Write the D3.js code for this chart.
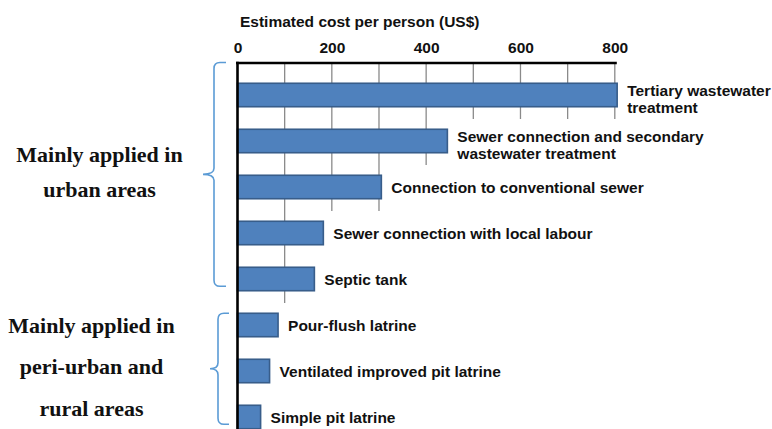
<!DOCTYPE html>
<html>
<head>
<meta charset="utf-8">
<script src="https://cdn.jsdelivr.net/npm/d3@7"></script>
<style>
  html, body { margin: 0; padding: 0; background: #ffffff; }
  svg { display: block; }
</style>
</head>
<body>
<svg id="chart" width="772" height="429"></svg>
<script>
// ---------- data ----------
const categories = [
  "Tertiary wastewater treatment",
  "Sewer connection and secondary wastewater treatment",
  "Connection to conventional sewer",
  "Sewer connection with local labour",
  "Septic tank",
  "Pour-flush latrine",
  "Ventilated improved pit latrine",
  "Simple pit latrine"
];
const labelLines = [
  ["Tertiary wastewater", "treatment"],
  ["Sewer connection and secondary", "wastewater treatment"],
  ["Connection to conventional sewer"],
  ["Sewer connection with local labour"],
  ["Septic tank"],
  ["Pour-flush latrine"],
  ["Ventilated improved pit latrine"],
  ["Simple pit latrine"]
];
const costs = [805, 445, 305, 182, 163, 86, 68, 49];
const tickLabels = [0, 200, 400, 600, 800];
const gridValues = [100, 200, 300, 400, 500, 600, 700, 800];
const axisTitle = "Estimated cost per person (US$)";
const groupLines = [
  ["Mainly applied in", "urban areas"],
  ["Mainly applied in", "peri-urban and", "rural areas"]
];
const groupFirst = [0, 5];
const groupLast = [4, 7];

// ---------- layout ----------
const W = 772, H = 429;
const axisY = 63;
const sansFont = "'Liberation Sans', Arial, sans-serif";
const serifFont = "'Liberation Serif', 'Times New Roman', serif";
const braceLayout = [
  { vx: 214, hx: 226, tx: 203, textX: 99.5, lineH: 35 },
  { vx: 218, hx: 229, tx: 210, textX: 91.5, lineH: 41.7 }
];

const svg = d3.select("#chart");

const x = d3.scaleLinear().domain([0, 800]).range([237.5, 614.8]);
const y = d3.scaleBand().domain(categories).range([72, 440])
  .paddingInner(0.49).paddingOuter(0.245);
const bw = y.bandwidth();
const cy = i => y(categories[i]) + bw / 2;

// ---------- gridlines (stop at first label box they meet) ----------
const gridEnd = v => {
  for (let i = 0; i < costs.length; i++) {
    if (x(costs[i]) + 2 <= x(v)) return cy(i) - 22;
  }
  return H;
};
svg.append("g").selectAll("line").data(gridValues).join("line")
  .attr("x1", d => x(d)).attr("x2", d => x(d))
  .attr("y1", axisY).attr("y2", d => gridEnd(d))
  .attr("stroke", "#8a8a8a").attr("stroke-width", 1.3);

// ---------- bars ----------
svg.append("g").selectAll("rect").data(costs).join("rect")
  .attr("x", x(0))
  .attr("y", (d, i) => y(categories[i]))
  .attr("width", d => x(d) - x(0))
  .attr("height", bw)
  .attr("fill", "#4f81bd")
  .attr("stroke", "#385d8a")
  .attr("stroke-width", 1.6);

// ---------- top axis ----------
const axis = svg.append("g").attr("transform", `translate(0,${axisY})`)
  .call(d3.axisTop(x).tickValues(tickLabels).tickSize(0).tickSizeOuter(0).tickPadding(10));
axis.select(".domain").attr("stroke", "#000").attr("stroke-width", 2.5)
  .attr("d", `M${x(0) - 1.5},0H${x(800) + 2}`);
axis.selectAll("text")
  .attr("font-family", sansFont).attr("font-size", "15.5px")
  .attr("font-weight", "bold").attr("fill", "#111");

// left axis line
svg.append("line")
  .attr("x1", x(0)).attr("x2", x(0))
  .attr("y1", axisY - 1.2).attr("y2", H)
  .attr("stroke", "#000").attr("stroke-width", 2.6);

// axis title
svg.append("text")
  .attr("x", x(0) + 2.5).attr("y", 27)
  .attr("font-family", sansFont).attr("font-size", "15.5px")
  .attr("font-weight", "bold").attr("fill", "#111")
  .text(axisTitle);

// ---------- bar labels ----------
const lbl = svg.append("g").selectAll("text").data(labelLines).join("text")
  .attr("font-family", sansFont).attr("font-size", "15.5px")
  .attr("font-weight", "bold").attr("fill", "#111")
  .attr("x", (d, i) => x(costs[i]) + 10)
  .attr("y", (d, i) => cy(i) + 6 - (d.length - 1) * 5.5);
lbl.selectAll("tspan").data(d => d).join("tspan")
  .attr("x", function () { return this.parentNode.getAttribute("x"); })
  .attr("dy", (d, j) => j === 0 ? 0 : 17.5)
  .text(d => d);

// ---------- braces and group labels ----------
groupLines.forEach((lines, g) => {
  const L = braceLayout[g];
  const top = groupFirst[g] === 0 ? axisY - 0.5 : y(categories[groupFirst[g]]);
  const bot = y(categories[groupLast[g]]) + bw - 4.5;
  const mid = (top + bot) / 2;
  const r = 6;
  const p = d3.path();
  p.moveTo(L.hx, top);
  p.lineTo(L.vx + r, top);
  p.quadraticCurveTo(L.vx, top, L.vx, top + r);
  p.lineTo(L.vx, mid - r);
  p.quadraticCurveTo(L.vx, mid, L.tx, mid);
  p.quadraticCurveTo(L.vx, mid, L.vx, mid + r);
  p.lineTo(L.vx, bot - r);
  p.quadraticCurveTo(L.vx, bot, L.vx + r, bot);
  p.lineTo(L.hx, bot);
  svg.append("path").attr("d", p.toString())
    .attr("fill", "none").attr("stroke", "#5b9bd5").attr("stroke-width", 1.6);

  svg.append("g").selectAll("text").data(lines).join("text")
    .attr("x", L.textX)
    .attr("y", (d, i) => mid + (i - (lines.length - 1) / 2) * L.lineH + 5.5)
    .attr("text-anchor", "middle")
    .attr("font-family", serifFont).attr("font-size", "22px")
    .attr("font-weight", "bold").attr("fill", "#111")
    .text(d => d);
});
</script>
</body>
</html>
